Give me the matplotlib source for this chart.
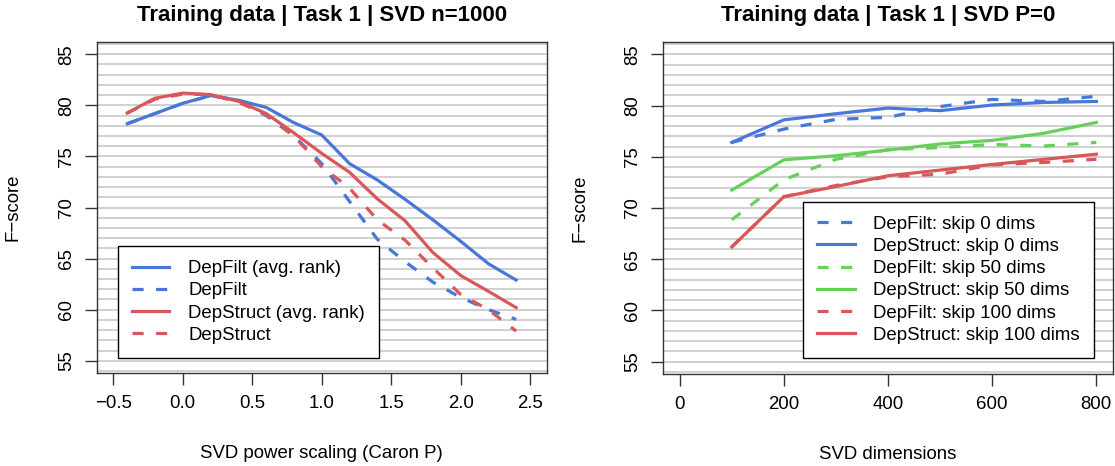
import matplotlib
matplotlib.use('Agg')
import matplotlib.pyplot as plt

plt.rcParams['font.family'] = ['Liberation Sans', 'DejaVu Sans']
plt.rcParams['lines.scale_dashes'] = False

# left panel: SVD power scaling
caron_p = [-0.4, -0.2, 0.0, 0.2, 0.4, 0.6, 0.8, 1.0, 1.2, 1.4, 1.6, 1.8, 2.0, 2.2, 2.4]
depfilt_avg = [78.2, 79.2, 80.2, 80.95, 80.5, 79.8, 78.3, 77.1, 74.3, 72.7, 70.8, 68.8, 66.7, 64.5, 62.9]
depfilt = [78.2, 79.2, 80.2, 80.95, 80.5, 79.0, 77.0, 74.3, 70.6, 66.9, 64.7, 62.7, 61.2, 60.0, 59.05]
depstruct_avg = [79.25, 80.7, 81.2, 81.05, 80.4, 79.2, 77.3, 75.3, 73.45, 70.85, 68.7, 65.6, 63.35, 61.8, 60.2]
depstruct = [79.25, 80.6, 81.1, 81.05, 80.3, 79.1, 77.0, 74.0, 71.9, 68.8, 66.8, 64.1, 61.5, 60.0, 57.9]

# right panel: SVD dimensions
dims = [100, 200, 300, 400, 500, 600, 700, 800]
filt0 = [76.4, 77.7, 78.65, 78.85, 79.9, 80.6, 80.4, 80.9]
struct0 = [76.4, 78.6, 79.2, 79.75, 79.5, 80.05, 80.3, 80.4]
filt50 = [68.85, 72.75, 74.75, 75.7, 75.9, 76.2, 76.05, 76.4]
struct50 = [71.75, 74.7, 75.1, 75.65, 76.25, 76.6, 77.3, 78.35]
filt100 = [66.2, 71.1, 72.2, 73.05, 73.3, 74.2, 74.45, 74.75]
struct100 = [66.2, 71.1, 72.1, 73.15, 73.7, 74.25, 74.75, 75.25]

BLUE = '#4777D8'
RED = '#D9575A'
GREEN = '#66D05A'
DASH = (0, (8, 9))
LW = 2.3
FS = 13.4

fig = plt.figure(figsize=(11.15, 4.66), dpi=100)
ax1 = fig.add_axes([96.7 / 1115, 93 / 466, 450 / 1115, 331 / 466])
ax2 = fig.add_axes([663 / 1115, 92 / 466, 450 / 1115, 332 / 466])


def style(ax, xlim, xticks, xlabel, title):
    ax.set_ylim(53.8, 86.2)
    ax.set_xlim(*xlim)
    for g in range(54, 87):
        ax.axhline(g, color='#d0d0d0', lw=1.4, zorder=0)
    ax.set_yticks([55, 60, 65, 70, 75, 80, 85])
    ax.set_yticklabels(['55', '60', '65', '70', '75', '80', '85'], rotation=90, va='center')
    ax.set_xticks(xticks)
    ax.tick_params(direction='out', length=8.6, width=1, color='#333333', labelsize=FS, pad=7)
    for s in ax.spines.values():
        s.set_color('#333333')
        s.set_linewidth(1)
    ax.set_ylabel('F\u2212score', fontsize=FS)
    ax.yaxis.set_label_coords(-0.166, 0.5)
    ax.set_xlabel(xlabel, fontsize=FS, va='center')
    ax.xaxis.set_label_coords(0.5, -0.242)
    ax.set_title(title, fontsize=16, fontweight='bold', pad=15)


ax1.plot(caron_p, depfilt_avg, color=BLUE, lw=LW, label='DepFilt (avg. rank)')
ax1.plot(caron_p, depfilt, color=BLUE, lw=LW, ls=DASH, label='DepFilt')
ax1.plot(caron_p, depstruct_avg, color=RED, lw=LW, label='DepStruct (avg. rank)')
ax1.plot(caron_p, depstruct, color=RED, lw=LW, ls=DASH, label='DepStruct')
style(ax1, (-0.62, 2.62), [-0.5, 0.0, 0.5, 1.0, 1.5, 2.0, 2.5],
      'SVD power scaling (Caron P)', 'Training data | Task 1 | SVD n=1000')
ax1.set_xticklabels(['\u22120.5', '0.0', '0.5', '1.0', '1.5', '2.0', '2.5'])

ax2.plot(dims, filt0, color=BLUE, lw=LW, ls=DASH, label='DepFilt: skip 0 dims')
ax2.plot(dims, struct0, color=BLUE, lw=LW, label='DepStruct: skip 0 dims')
ax2.plot(dims, filt50, color=GREEN, lw=LW, ls=DASH, label='DepFilt: skip 50 dims')
ax2.plot(dims, struct50, color=GREEN, lw=LW, label='DepStruct: skip 50 dims')
ax2.plot(dims, filt100, color=RED, lw=LW, ls=DASH, label='DepFilt: skip 100 dims')
ax2.plot(dims, struct100, color=RED, lw=LW, label='DepStruct: skip 100 dims')
style(ax2, (-32, 832), [0, 200, 400, 600, 800], 'SVD dimensions',
      'Training data | Task 1 | SVD P=0')

leg_kw = dict(fontsize=FS, frameon=True, fancybox=False, edgecolor='black',
              framealpha=1, borderaxespad=0, labelspacing=0.28, handlelength=2.0,
              handletextpad=1.0, borderpad=0.75)
l1 = ax1.legend(loc='lower left', bbox_to_anchor=(0.048, 0.046), **leg_kw)
l2 = ax2.legend(loc='lower left', bbox_to_anchor=(0.312, 0.049), **leg_kw)
for l in (l1, l2):
    l.get_frame().set_linewidth(1)

fig.savefig('out.png', dpi=100)
